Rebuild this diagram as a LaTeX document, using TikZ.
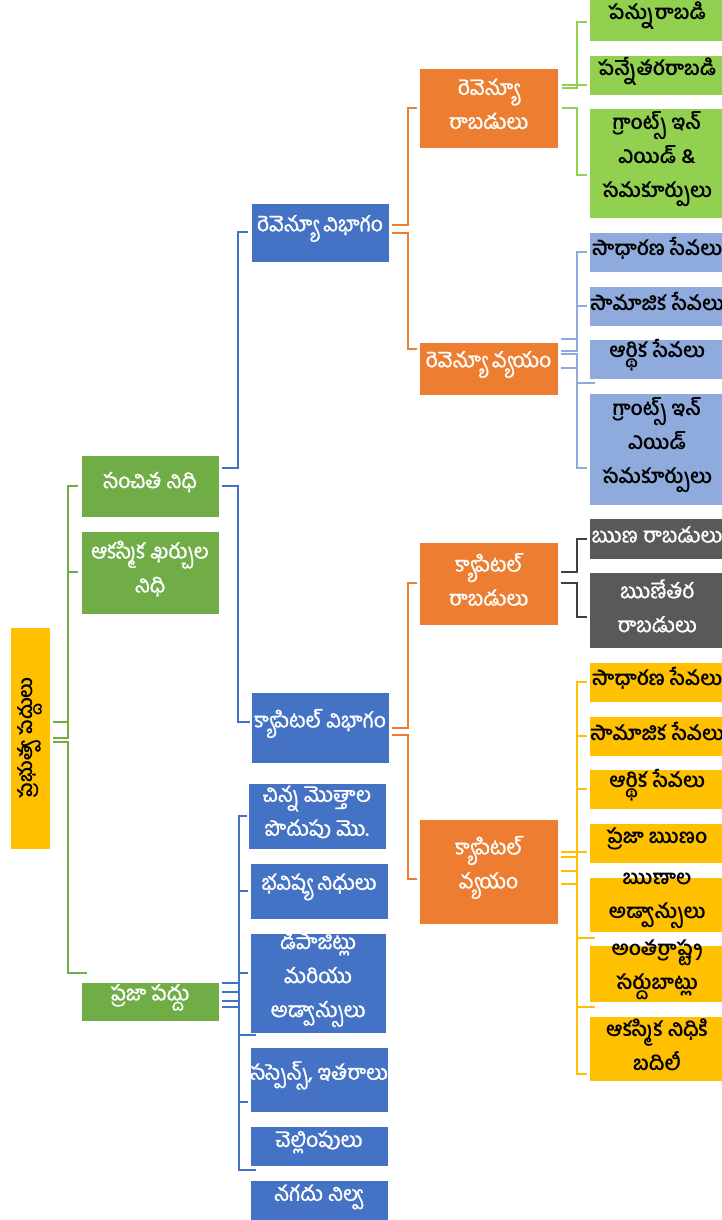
\documentclass[tikz,border=0pt]{standalone}
\usepackage{fontspec}
\newfontfamily\tel[Script=Telugu]{Hind Guntur}
\newfontfamily\telw[Script=Telugu, FakeBold=1.2]{Hind Guntur}
\usetikzlibrary{calc}
\definecolor{cRoot}{HTML}{FFC000}
\definecolor{cLa}{HTML}{70AD47}
\definecolor{cLb}{HTML}{4472C4}
\definecolor{cLc}{HTML}{ED7D31}
\definecolor{cG}{HTML}{92D050}
\definecolor{cB}{HTML}{8FAADC}
\definecolor{cD}{HTML}{595959}
\definecolor{cDl}{HTML}{404040}
\definecolor{cY}{HTML}{FFC000}
\tikzset{
  boxst/.style={rectangle, draw=white, line width=0.8pt, inner sep=0pt},
  wtxt/.style={align=center, inner sep=0pt, text=white, font=\telw\fontsize{21}{34}\selectfont},
  ktxt/.style={align=center, inner sep=0pt, text=black, font=\tel\bfseries\fontsize{20}{34}\selectfont},
  rtxt/.style={align=center, inner sep=0pt, text=black, font=\tel\bfseries\fontsize{19}{34}\selectfont},
  con/.style={line width=2pt},
}
\newcommand\bx[8]{%
  \node[boxst, fill=#6, minimum width={(#4)-(#2)}, minimum height={(#5)-(#3)}] (#1) at ({((#2)+(#4))/2},{((#3)+(#5))/2}) {};
  \node[#7] (#1-t) at ($(#1.center)+(0,-4)$) {#8};}
\begin{document}
\begin{tikzpicture}[x=1pt,y=-1pt]
\path[use as bounding box] (0,0) rectangle (722,1220);
\clip (0,0) rectangle (722,1220);
% root
\node[boxst, fill=cRoot, minimum width=40, minimum height=222] (root) at (30,738) {};
\node[rtxt, rotate=90] (root-t) at (root.center) {ప్రభుత్వ పద్దులు};
% level 1
\bx{l1a}{81}{455}{219}{517}{cLa}{wtxt}{సంచిత నిధి}
\bx{l1b}{81}{531}{219}{614}{cLa}{wtxt}{ఆకస్మిక ఖర్చుల\\నిధి}
\bx{l1c}{81}{982}{219}{1021}{cLa}{wtxt}{ప్రజా పద్దు}
% level 2
\bx{l2a}{251}{203}{389}{262}{cLb}{wtxt}{రెవెన్యూ విభాగం}
\bx{l2b}{251}{692}{389}{763}{cLb}{wtxt}{క్యాపిటల్ విభాగం}
\bx{p1}{248}{783}{386}{849}{cLb}{wtxt}{చిన్న మొత్తాల\\పొదుపు మొ.}
\bx{p2}{250}{863}{388}{919}{cLb}{wtxt}{భవిష్య నిధులు}
\bx{p3}{250}{933}{386}{1033}{cLb}{wtxt}{డిపాజిట్లు\\మరియు\\అడ్వాన్సులు}
\bx{p4}{250}{1047}{388}{1112}{cLb}{wtxt}{సస్పెన్స్, ఇతరాలు}
\bx{p5}{250}{1126}{388}{1166}{cLb}{wtxt}{చెల్లింపులు}
\bx{p6}{250}{1180}{388}{1222}{cLb}{wtxt}{నగదు నిల్వ}
% level 3
\bx{l3a}{419}{68}{558}{148}{cLc}{wtxt}{రెవెన్యూ\\రాబడులు}
\bx{l3b}{419}{342}{558}{395}{cLc}{wtxt}{రెవెన్యూ వ్యయం}
\bx{l3c}{419}{542}{558}{625}{cLc}{wtxt}{క్యాపిటల్\\రాబడులు}
\bx{l3d}{419}{819}{558}{924}{cLc}{wtxt}{క్యాపిటల్\\వ్యయం}
% level 4
\bx{g1}{589}{-2}{725}{41}{cG}{ktxt}{పన్నురాబడి}
\bx{g2}{589}{55}{725}{95}{cG}{ktxt}{పన్నేతరరాబడి}
\bx{g3}{589}{108}{725}{218}{cG}{ktxt}{గ్రాంట్స్ ఇన్\\ఎయిడ్ \&\\సమకూర్పులు}
\bx{b1}{589}{232}{725}{272}{cB}{ktxt}{సాధారణ సేవలు}
\bx{b2}{589}{286}{725}{326}{cB}{ktxt}{సామాజిక సేవలు}
\bx{b3}{589}{339}{725}{379}{cB}{ktxt}{ఆర్థిక సేవలు}
\bx{b4}{589}{393}{725}{505}{cB}{ktxt}{గ్రాంట్స్ ఇన్\\ఎయిడ్\\సమకూర్పులు}
\bx{d1}{589}{518}{725}{559}{cD}{wtxt}{ఋణ రాబడులు}
\bx{d2}{589}{572}{725}{648}{cD}{wtxt}{ఋణేతర\\రాబడులు}
\bx{y1}{589}{662}{725}{702}{cY}{ktxt}{సాధారణ సేవలు}
\bx{y2}{589}{716}{725}{756}{cY}{ktxt}{సామాజిక సేవలు}
\bx{y3}{589}{769}{725}{809}{cY}{ktxt}{ఆర్థిక సేవలు}
\bx{y4}{589}{823}{725}{863}{cY}{ktxt}{ప్రజా ఋణం}
\bx{y5}{589}{877}{725}{932}{cY}{ktxt}{ఋణాల\\అడ్వాన్సులు}
\bx{y6}{589}{945}{725}{1002}{cY}{ktxt}{అంతర్రాష్ట్ర\\సర్దుబాట్లు}
\bx{y7}{589}{1016}{725}{1081}{cY}{ktxt}{ఆకస్మిక నిధికి\\బదిలీ}
% connectors root -> level 1
\draw[con, cLa] ($(root.east)+(3,-16)$) -- ++(15,0) |- ($(l1a.west)+(-3,0)$);
\draw[con, cLa] ($(root.east)+(3,0)$) -- ++(15,0) |- ($(l1b.west)+(-3,-0.5)$);
\draw[con, cLa] ($(root.east)+(3,4)$) -- ++(15,0) |- ($(l1c.north west)+(6,-9)$);
% level 1 -> level 2
\draw[con, cLb] ($(l1a.east)+(3,-18)$) -- ++(16,0) |- ($(l2a.west)+(-3,-0.5)$);
\draw[con, cLb] ($(l1a.east)+(3,0)$) -- ++(16,0) |- ($(l2b.west)+(-1,-5.5)$);
\draw[con, cLb] ($(l1c.east)+(3,-18.5)$) -- ++(17,0) |- ($(p1.west)+(-1,0)$);
\draw[con, cLb] ($(l1c.east)+(3,-9.5)$) -- ++(17,0) |- ($(p2.west)+(-2,0)$);
\draw[con, cLb] ($(l1c.east)+(3,-0.5)$) -- ++(17,0) |- ($(p3.west)+(-2,-10)$);
\draw[con, cLb] ($(l1c.east)+(3,5.5)$) -- ++(17,0) |- ($(p4.west)+(6,-44.5)$);
\draw[con, cLb] ($(l1c.east)+(3,5.5)$) -- ++(17,0) |- ($(p5.west)+(-2,-44)$);
\draw[con, cLb] ($(l1c.east)+(3,-0.5)$) -- ++(17,0) |- ($(p6.west)+(6,-31)$);
% level 2 -> level 3
\draw[con, cLc] ($(l2a.east)+(3,-7.5)$) -- ++(16,0) |- ($(l3a.west)+(-2,0)$);
\draw[con, cLc] ($(l2a.east)+(3,0)$) -- ++(16,0) |- ($(l3b.west)+(-2,-19.5)$);
\draw[con, cLc] ($(l2b.east)+(3,0)$) -- ++(16,0) |- ($(l3c.west)+(-2,-0.5)$);
\draw[con, cLc] ($(l2b.east)+(3,7.5)$) -- ++(16,0) |- ($(l3d.west)+(-2,7.5)$);
% level 3 -> level 4
\draw[con, cG] ($(l3a.east)+(4,-20)$) -- ++(15,0) |- ($(g1.west)+(-2,2.5)$);
\draw[con, cG] ($(l3a.east)+(4,-23)$) -- ++(15,0) |- ($(g2.west)+(-2,10)$);
\draw[con, cG] ($(l3a.east)+(4,0)$) -- ++(15,0) |- ($(g3.west)+(-2,12)$);
\draw[con, cB] ($(l3b.east)+(3,-29.5)$) -- ++(16,0) |- ($(b1.west)+(-2,0)$);
\draw[con, cB] ($(l3b.east)+(3,-17.5)$) -- ++(16,0) |- ($(b2.west)+(-2,0)$);
\draw[con, cB] ($(l3b.east)+(3,-14.5)$) -- ++(16,0) |- ($(b3.west)+(6,24)$);
\draw[con, cB] ($(l3b.east)+(3,-0.5)$) -- ++(16,0) |- ($(b4.west)+(-2,19)$);
\draw[con, cDl] ($(l3c.east)+(3,-11.5)$) -- ++(16,0) |- ($(d1.west)+(-2,0.5)$);
\draw[con, cDl] ($(l3c.east)+(3,-0.5)$) -- ++(16,0) |- ($(d2.west)+(-2,7)$);
\draw[con, cY] ($(l3d.east)+(3,-19.5)$) -- ++(16,0) |- ($(y1.west)+(-2,0)$);
\draw[con, cY] ($(l3d.east)+(3,-14.5)$) -- ++(16,0) |- ($(y2.west)+(-2,0)$);
\draw[con, cY] ($(l3d.east)+(3,-0.5)$) -- ++(16,0) |- ($(y3.west)+(-2,0)$);
\draw[con, cY] ($(l3d.east)+(3,-19.5)$) -- ++(16,0) |- ($(y4.west)+(-2,9)$);
\draw[con, cY] ($(l3d.east)+(3,12.5)$) -- ++(16,0) |- ($(y5.west)+(6,33.5)$);
\draw[con, cY] ($(l3d.east)+(3,12.5)$) -- ++(16,0) |- ($(y6.west)+(6,33.5)$);
\draw[con, cY] ($(l3d.east)+(3,-0.5)$) -- ++(16,0) |- ($(y7.west)+(-2,25.5)$);
\end{tikzpicture}
\end{document}
